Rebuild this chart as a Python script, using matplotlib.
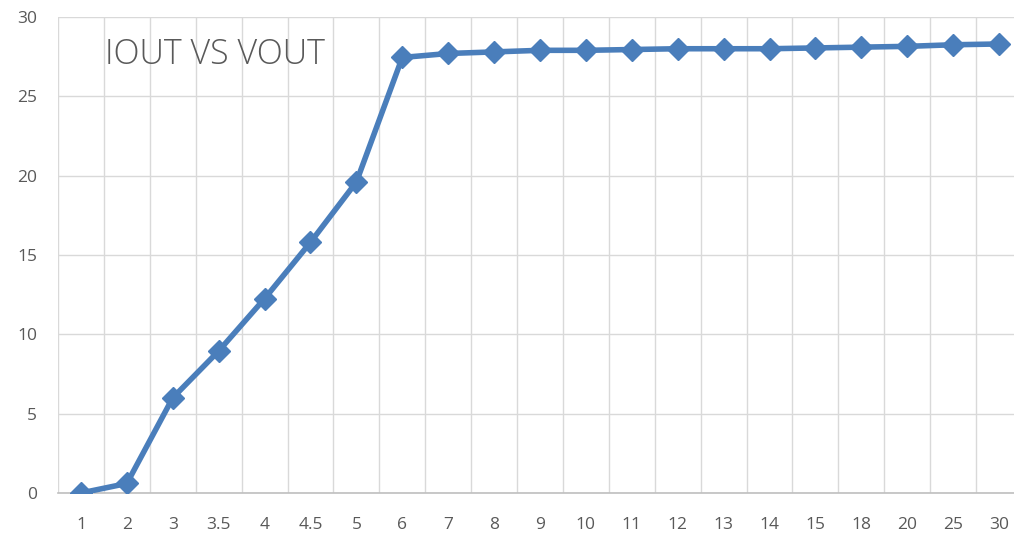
import matplotlib.pyplot as plt
import numpy as np

# IOUT VS VOUT (categorical x, as in the Excel line chart)
vout_labels = ["1", "2", "3", "3.5", "4", "4.5", "5", "6", "7", "8", "9", "10",
               "11", "12", "13", "14", "15", "18", "20", "25", "30"]
iout = [0.0, 0.6, 6.0, 8.95, 12.25, 15.8, 19.6, 27.45, 27.7, 27.8, 27.9, 27.9,
        27.95, 28.0, 28.0, 28.0, 28.05, 28.1, 28.15, 28.25, 28.3]
y_ticks = [0, 5, 10, 15, 20, 25, 30]

LINE_COL = "#4a7ebb"
GRID_COL = "#d9d9d9"
TEXT_COL = "#595959"

plt.rcParams["font.family"] = ["Open Sans", "DejaVu Sans"]

fig = plt.figure(figsize=(10.14, 5.45), dpi=100)
ax = fig.add_axes([58 / 1014, 52 / 545, 964 / 1014, 476 / 545])

x = np.arange(len(vout_labels))
ax.plot(x, iout, color=LINE_COL, lw=4, marker="D", ms=11,
        mfc=LINE_COL, mec=LINE_COL, zorder=3, solid_joinstyle="round")

ax.set_xlim(-0.5, len(vout_labels) - 0.5)
ax.set_ylim(0, 30)
ax.set_xticks(x)
ax.set_xticklabels(vout_labels)
ax.set_xticks(np.arange(len(vout_labels) + 1) - 0.5, minor=True)
ax.set_yticks(y_ticks)

ax.grid(True, which="minor", axis="x", color=GRID_COL, lw=1.0)
ax.grid(True, which="major", axis="y", color=GRID_COL, lw=1.0)
ax.set_axisbelow(True)

for s in ["top", "right", "left"]:
    ax.spines[s].set_visible(False)
ax.spines["bottom"].set_color("#bfbfbf")
ax.spines["bottom"].set_linewidth(1.2)

ax.tick_params(axis="both", which="both", length=0, colors=TEXT_COL, labelsize=12.5)
ax.tick_params(axis="y", pad=15)
ax.tick_params(axis="x", pad=17)

ax.text(0.52, 27.6, "IOUT VS VOUT", fontsize=24.5, color=TEXT_COL,
        ha="left", va="center", fontweight="light")

fig.savefig("out.png", dpi=100)
